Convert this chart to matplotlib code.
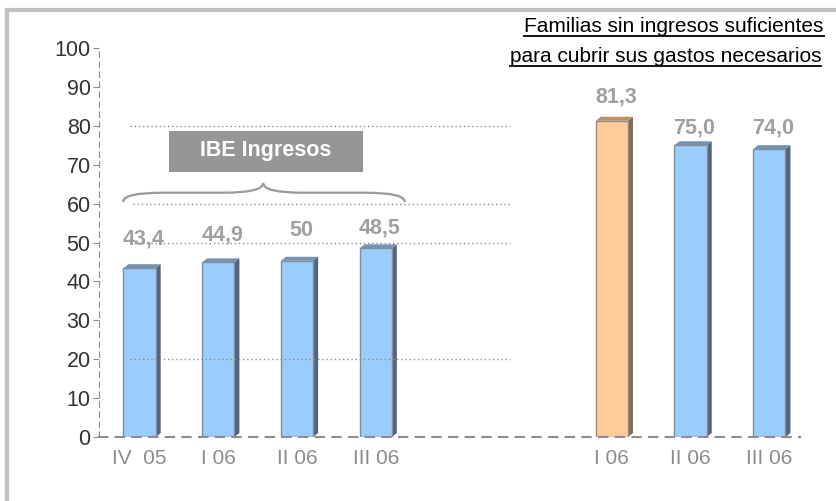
import matplotlib.pyplot as plt
from matplotlib.patches import Rectangle, Polygon, PathPatch
from matplotlib.path import Path
from matplotlib.lines import Line2D

plt.rcParams['font.family'] = ['Liberation Sans', 'DejaVu Sans']

# data
positions = [0, 1, 2, 3, 6, 7, 8]
tick_labels = ["IV  05", "I 06", "II 06", "III 06", "I 06", "II 06", "III 06"]
bar_heights = [43.4, 44.9, 45.3, 48.5, 81.3, 75.0, 74.0]
value_labels = ["43,4", "44,9", "50", "48,5", "81,3", "75,0", "74,0"]
label_y = [50.9, 51.9, 53.0, 53.8, 87.4, 79.4, 79.4]
is_orange = [False, False, False, False, True, False, False]
grid_levels = [80, 60, 50, 20]
yticks = list(range(0, 101, 10))

W, H = 837, 501
fig = plt.figure(figsize=(W / 100, H / 100), dpi=100)
ax = fig.add_axes([99 / W, (H - 437) / H, (800 - 99) / W, (437 - 48) / H])

ax.set_xlim(-0.515, 8.39)
ax.set_ylim(0, 100)

# pixel scale helpers for the fake 3D depth
px_x = (8.39 + 0.515) / (800 - 99)
px_y = 100 / (437 - 48)
dx, dy = 5 * px_x, 4 * px_y
bw = 0.41

for x, h, orange in zip(positions, bar_heights, is_orange):
    face = "#ffcc99" if orange else "#99ccff"
    side = "#8a6a4e" if orange else "#4d6585"
    top = "#b8916b" if orange else "#7392b8"
    x0 = x - bw / 2
    ax.add_patch(Polygon([(x0 + bw, 0), (x0 + bw + dx, dy), (x0 + bw + dx, h + dy), (x0 + bw, h)],
                         closed=True, facecolor=side, edgecolor="none", zorder=2))
    ax.add_patch(Polygon([(x0, h), (x0 + dx, h + dy), (x0 + bw + dx, h + dy), (x0 + bw, h)],
                         closed=True, facecolor=top, edgecolor="none", zorder=2))
    ax.add_patch(Rectangle((x0, 0), bw, h, facecolor=face, edgecolor="#8c8c8c", lw=1.0, zorder=3))

for x, t, ly in zip(positions, value_labels, label_y):
    ax.text(x + 0.05, ly, t, ha="center", va="center", fontsize=15.5,
            fontweight="bold", color="#a0a0a0", zorder=5)

# dotted guide lines
for g in grid_levels:
    x_start = -0.12 if g != 60 else -0.08
    ax.plot([x_start, 4.7], [g, g], ls=(0, (1, 2)), color="#8c8c8c", lw=1.0, zorder=4)

# "IBE Ingresos" box
ax.add_patch(Rectangle((0.375, 68.1), 2.465, 10.6, facecolor="#969696", edgecolor="none", zorder=4))
ax.text(1.6, 73.6, "IBE Ingresos", ha="center", va="center", fontsize=15.5,
        fontweight="bold", color="white", zorder=5)

# curly brace
xl, xr, xm = -0.21, 3.37, 1.57
y_end, y_mid, y_peak = 60.4, 62.8, 65.3
verts = [(xl, y_end), (xl, y_mid), (xl + 0.5, y_mid),
         (xm - 0.5, y_mid), (xm, y_mid), (xm, y_peak),
         (xm, y_mid), (xm + 0.5, y_mid),
         (xr - 0.5, y_mid), (xr, y_mid), (xr, y_end)]
codes = [Path.MOVETO, Path.CURVE3, Path.CURVE3,
         Path.LINETO, Path.CURVE3, Path.CURVE3,
         Path.CURVE3, Path.CURVE3,
         Path.LINETO, Path.CURVE3, Path.CURVE3]
ax.add_patch(PathPatch(Path(verts, codes), facecolor="none", edgecolor="#999999", lw=1.6, zorder=4))

# axes styling
for s in ["top", "right"]:
    ax.spines[s].set_visible(False)
ax.spines["left"].set_linestyle((0, (5, 4)))
ax.spines["left"].set_color("#8c8c8c")
ax.spines["bottom"].set_linestyle((0, (4, 4)))
ax.spines["bottom"].set_color("#8c8c8c")
ax.spines["bottom"].set_linewidth(1.5)
ax.spines["bottom"].set_zorder(6)

ax.set_yticks(yticks)
ax.set_yticklabels([str(v) for v in yticks])
ax.tick_params(axis="y", length=4, color="#8c8c8c", labelsize=15.5, labelcolor="#333333", pad=2)
ax.set_xticks(positions)
ax.set_xticklabels(tick_labels)
ax.tick_params(axis="x", length=0, labelsize=15, labelcolor="#8c8c8c", pad=9)

# outer frame
fig.patches.append(Rectangle((7 / W, -0.2), 2, (H - 10) / H + 0.2, transform=fig.transFigure,
                             facecolor="none", edgecolor="#c0c0c0", lw=3, zorder=0))

# title, underlined
t1 = fig.text(674 / W, 1 - 27 / H, "Familias sin ingresos suficientes", ha="center", va="center",
              fontsize=15, color="black")
t2 = fig.text(510 / W, 1 - 57 / H, "para cubrir sus gastos necesarios", ha="left", va="center",
              fontsize=15, color="black")
fig.canvas.draw()
r = fig.canvas.get_renderer()
for t in (t1, t2):
    bb = t.get_window_extent(r)
    y = bb.y0 + 1
    fig.lines.append(Line2D([bb.x0 / W, bb.x1 / W], [y / H, y / H], transform=fig.transFigure,
                            color="black", lw=1.3))

fig.savefig("out.png", dpi=100)
